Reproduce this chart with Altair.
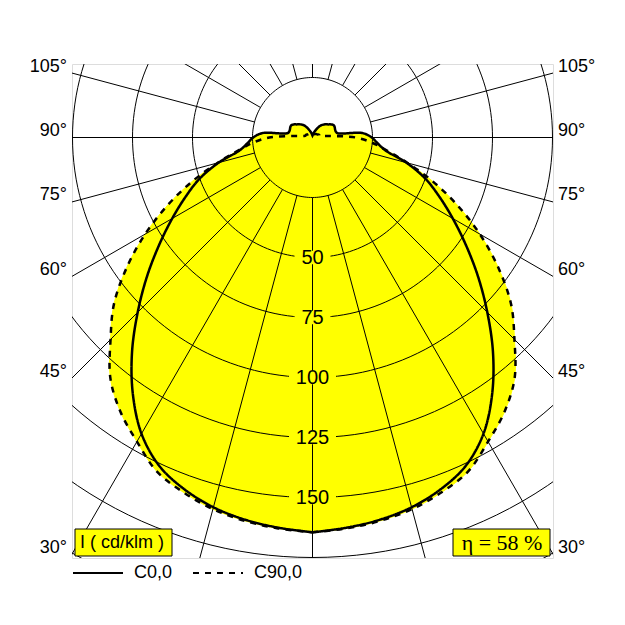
import math
import altair as alt
import pandas as pd

# ---------------- data ----------------
ANGLES = list(range(0, 181, 5))  # gamma, degrees from nadir
C0 = [164.5, 163.2, 161.7, 159.5, 156.0, 151.0, 142.5, 130.5, 117.0, 103.0,
      90.0, 78.0, 67.5, 58.3, 50.0, 40.5, 30.8, 27.2, 24.7, 21.0,
      10.5, 10.0, 10.0, 10.2, 10.2, 9.5, 8.5, 7.8, 7.0, 6.2,
      5.0, 3.7, 2.8, 2.0, 1.4, 1.0, 0.8]
C90 = [164.5, 163.5, 162.2, 160.3, 157.3, 153.5, 146.3, 139.5, 131.0, 119.0,
       108.0, 94.5, 80.5, 66.5, 53.2, 41.0, 31.5, 25.0, 18.0, 7.0,
       3.5, 3.0, 3.0, 2.8, 2.5, 2.3, 2.2, 2.0, 1.9, 1.8,
       1.6, 1.4, 1.3, 1.2, 1.1, 1.0, 1.0]
SERIES = ["C0,0", "C90,0"]
RING_LABELS = [50, 75, 100, 125, 150]
GRID_RINGS = [25, 50, 75, 100, 125, 150, 175, 200]
SIDE_ANGLES = [30, 45, 60, 75, 90, 105]
ETA = 58
UNIT = "I ( cd/klm )"

# ---------------- geometry ----------------
K = 2.4            # px per cd/klm
W, H = 481, 494
XMAX = W / 2 / K
YTOP = 73.5 / K
YBOT = YTOP - H / K
xs = alt.Scale(domain=[-XMAX, XMAX], nice=False, zero=False)
ys = alt.Scale(domain=[YBOT, YTOP], nice=False, zero=False)
FONT = "Liberation Sans"
YEL = "#ffff00"


def curve_rows(name, vals):
    rows = []
    seq = [(a, v, 1) for a, v in zip(ANGLES, vals)]
    seq += [(a, v, -1) for a, v in reversed(list(zip(ANGLES, vals)))]
    for i, (a, v, s) in enumerate(seq):
        t = math.radians(a)
        rows.append({"series": name, "idx": i,
                     "x": s * v * math.sin(t), "y": -v * math.cos(t)})
    return rows


curves = pd.DataFrame(curve_rows(SERIES[0], C0) + curve_rows(SERIES[1], C90))

ring_rows = []
for r in GRID_RINGS:
    for i, a in enumerate(range(0, 361, 2)):
        t = math.radians(a)
        ring_rows.append({"r": r, "idx": i, "x": r * math.sin(t), "y": -r * math.cos(t)})
rings = pd.DataFrame(ring_rows)

spoke_rows = []
for a in range(-165, 181, 15):
    t = math.radians(a)
    spoke_rows.append({"x": 25 * math.sin(t), "y": -25 * math.cos(t),
                       "x2": 230 * math.sin(t), "y2": -230 * math.cos(t)})
spokes = pd.DataFrame(spoke_rows)

lab = pd.DataFrame({"v": RING_LABELS, "t": [str(v) for v in RING_LABELS]})
lab["y"] = -lab["v"]
lab["hw"] = (lab["t"].str.len() * 11 + 14) / 2 / K
lab["x0"] = -lab["hw"]
lab["x1"] = lab["hw"]
lab["y0"] = lab["y"] - 13.5 / 2 / K
lab["y1"] = lab["y"] + 13.5 / 2 / K
lab["zero"] = 0.0

side = pd.DataFrame({"a": SIDE_ANGLES, "t": [f"{a}°" for a in SIDE_ANGLES]})
side["y"] = [-XMAX * math.cos(math.radians(a)) / math.sin(math.radians(a)) for a in SIDE_ANGLES]
side["xl"] = -XMAX
side["xr"] = XMAX

one = pd.DataFrame({"k": [0]})

X = lambda f: alt.X(f, scale=xs, axis=None)
Y = lambda f: alt.Y(f, scale=ys, axis=None)

fill = alt.Chart(curves).mark_line(
    fill=YEL, stroke=YEL, strokeWidth=1, interpolate="catmull-rom", clip=True
).encode(x=X("x:Q"), y=Y("y:Q"), order="idx:Q", detail="series:N")

ring_layer = alt.Chart(rings).mark_line(
    color="black", strokeWidth=1, clip=True
).encode(x=X("x:Q"), y=Y("y:Q"), order="idx:Q", detail="r:N")

spoke_layer = alt.Chart(spokes).mark_rule(
    color="black", strokeWidth=1, clip=True
).encode(x=X("x:Q"), y=Y("y:Q"), x2="x2:Q", y2="y2:Q")

boxes = alt.Chart(lab).mark_rect(fill=YEL, strokeWidth=0).encode(
    x=X("x0:Q"), x2="x1:Q", y=Y("y0:Q"), y2="y1:Q")

lines = alt.Chart(curves).mark_line(
    color="black", strokeWidth=2.5, interpolate="catmull-rom", clip=True
).encode(
    x=X("x:Q"), y=Y("y:Q"), order="idx:Q",
    strokeDash=alt.StrokeDash(
        "series:N",
        scale=alt.Scale(domain=SERIES, range=[[1, 0], [6, 6]]),
        legend=alt.Legend(
            title=None, orient="none", legendX=0, legendY=483,
            direction="horizontal", symbolType="stroke", symbolSize=2500,
            symbolStrokeWidth=2, symbolStrokeColor="black",
            labelFont=FONT, labelFontSize=18, labelColor="black",
            labelOffset=10, columnPadding=16, padding=0,
        ),
    ),
)

ring_text = alt.Chart(lab).mark_text(
    font=FONT, fontSize=20, color="black", align="center", baseline="middle"
).encode(x=X("zero:Q"), y=Y("y:Q"), text="t:N")

left_text = alt.Chart(side).mark_text(
    font=FONT, fontSize=18, color="black", align="right", baseline="middle", dx=-5, dy=-6.5
).encode(x=X("xl:Q"), y=Y("y:Q"), text="t:N")

right_text = alt.Chart(side).mark_text(
    font=FONT, fontSize=18, color="black", align="left", baseline="middle", dx=5, dy=-6.5
).encode(x=X("xr:Q"), y=Y("y:Q"), text="t:N")

unit_box = alt.Chart(one).mark_rect(fill=YEL, stroke="black", strokeWidth=1).encode(
    x=alt.value(3), x2=alt.value(100), y=alt.value(465), y2=alt.value(492))
unit_text = alt.Chart(one).mark_text(
    font=FONT, fontSize=18, color="black", align="left", baseline="middle"
).encode(x=alt.value(8), y=alt.value(479), text=alt.value(UNIT))

eta_box = alt.Chart(one).mark_rect(fill=YEL, stroke="black", strokeWidth=1).encode(
    x=alt.value(381), x2=alt.value(478), y=alt.value(465), y2=alt.value(492))
eta_text = alt.Chart(one).mark_text(
    font="Liberation Serif", fontSize=22, color="black", align="center", baseline="middle"
).encode(x=alt.value(430), y=alt.value(479), text=alt.value(f"η = {ETA} %"))

chart = alt.layer(
    fill, ring_layer, spoke_layer, boxes, lines, ring_text,
    left_text, right_text, unit_box, unit_text, eta_box, eta_text,
).properties(
    width=W, height=H,
    autosize=alt.AutoSizeParams(type="none"),
    padding={"left": 64, "top": 56, "right": 55, "bottom": 50},
).configure_view(stroke="black", strokeWidth=3, fill="white").configure(
    background="white"
)

chart.save("out.html", embed_options={"renderer": "svg", "actions": False})
